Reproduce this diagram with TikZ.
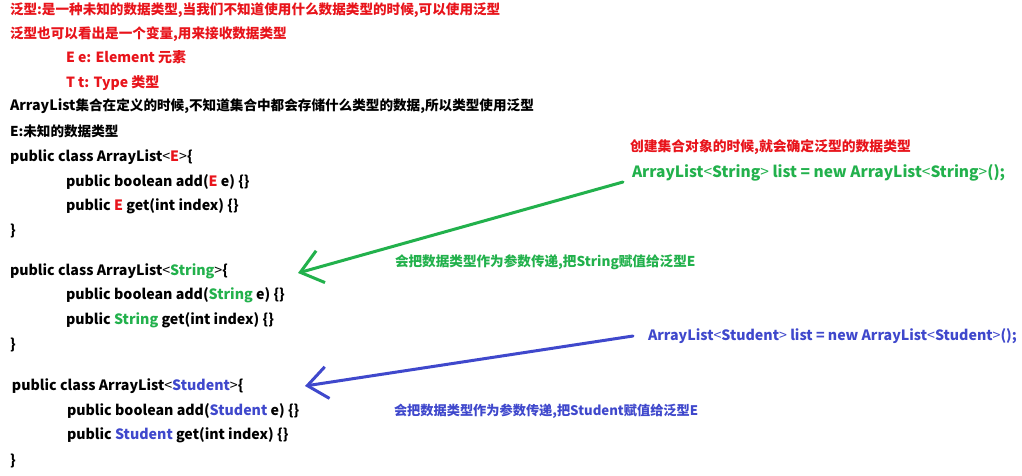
\documentclass[tikz,border=0pt]{standalone}
\usepackage{fontspec}
\setmainfont{Noto Sans CJK SC}
\usetikzlibrary{arrows.meta}
\definecolor{cred}{HTML}{E8141B}
\definecolor{cgreen}{HTML}{22B14C}
\definecolor{cblue}{HTML}{3F48CC}
\newcommand{\lt}{{\mdseries<}}
\newcommand{\gt}{{\mdseries>}}
\begin{document}
\begin{tikzpicture}[x=1pt,y=-1pt,
  txt/.style={inner sep=0pt, outer sep=0pt, anchor=base west, font=\fontsize{13.6}{16}\selectfont\bfseries},
  code/.style={txt, font=\fontsize{14.2}{16}\selectfont\bfseries},
  rtxt/.style={txt, text=cred},
  gtxt/.style={txt, text=cgreen},
  btxt/.style={txt, text=cblue},
  garrow/.style={draw=cgreen, line width=3pt, line cap=round, line join=round, -{Straight Barb[length=21pt,width=33pt]}},
  barrow/.style={draw=cblue, line width=3pt, line cap=round, line join=round, -{Straight Barb[length=20pt,width=32pt]}}]
\useasboundingbox[fill=white] (0,0) rectangle (1022,476);
% left column
\node[rtxt] (l1) at (10,14.5) {泛型:是一种未知的数据类型,当我们不知道使用什么数据类型的时候,可以使用泛型};
\node[rtxt] (l2) at (10,38.5) {泛型也可以看出是一个变量,用来接收数据类型};
\node[rtxt, font=\fontsize{14}{16}\selectfont\bfseries] (l3) at (66,63) {E e: Element 元素};
\node[rtxt, font=\fontsize{14}{16}\selectfont\bfseries] (l4) at (66,87.5) {T t: Type 类型};
\node[txt] (l5) at (10,111) {{\fontsize{14.2}{16}\selectfont ArrayList}集合在定义的时候,不知道集合中都会存储什么类型的数据,所以类型使用泛型};
\node[txt] (l6) at (10,136) {E:未知的数据类型};
\node[code] (c1) at (10,161.5) {public class ArrayList\lt\textcolor{cred}{E}\gt\{};
\node[code] (c1a) at (66,186.5) {public boolean add(\textcolor{cred}{E} e) \{\}};
\node[code] (c1b) at (66,210.5) {public \textcolor{cred}{E} get(int index) \{\}};
\node[code] (c1c) at (10,235) {\}};
\node[code] (c2) at (10,275) {public class ArrayList\lt\textcolor{cgreen}{String}\gt\{};
\node[code] (c2a) at (66,299) {public boolean add(\textcolor{cgreen}{String} e) \{\}};
\node[code] (c2b) at (66,324) {public \textcolor{cgreen}{String} get(int index) \{\}};
\node[code] (c2c) at (10,349) {\}};
\node[code] (c3) at (12,390) {public class ArrayList\lt\textcolor{cblue}{Student}\gt\{};
\node[code] (c3a) at (67,415) {public boolean add(\textcolor{cblue}{Student} e) \{\}};
\node[code] (c3b) at (67,439) {public \textcolor{cblue}{Student} get(int index) \{\}};
\node[code] (c3c) at (10,465) {\}};
% right side
\node[rtxt, font=\fontsize{13.8}{16}\selectfont\bfseries] (r1) at (630,151.5) {创建集合对象的时候,就会确定泛型的数据类型};
\node[gtxt, font=\fontsize{15.5}{17}\selectfont\bfseries] (g1) at (632,177) {ArrayList\lt String\gt{} list = new ArrayList\lt String\gt();};
\node[gtxt] (g2) at (395,266.5) {会把数据类型作为参数传递,把String赋值给泛型E};
\node[btxt, font=\fontsize{14.2}{16}\selectfont\bfseries] (b1) at (648,340) {ArrayList\lt Student\gt{} list = new ArrayList\lt Student\gt();};
\node[btxt, font=\fontsize{13.2}{16}\selectfont\bfseries] (b2) at (394,415) {会把数据类型作为参数传递,把Student赋值给泛型E};
% arrows
\coordinate (gs) at (623,182);
\coordinate (gt) at (298,273);
\coordinate (bs) at (633,336);
\coordinate (bt) at (305,386);
\draw[garrow] (gs) -- (gt);
\draw[barrow] (bs) -- (bt);
\end{tikzpicture}
\end{document}
